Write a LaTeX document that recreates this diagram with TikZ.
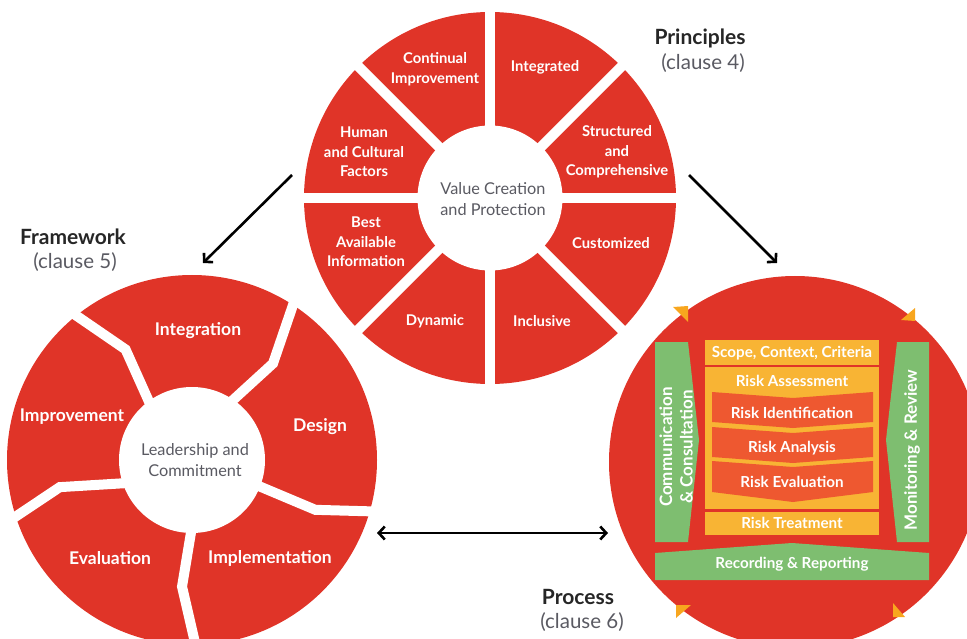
\documentclass[tikz,border=0pt]{standalone}
\usepackage{fontspec}
\setmainfont{Lato}
\usepackage{tikz}
\usetikzlibrary{arrows.meta}
\definecolor{wheelred}{RGB}{224,52,40}
\definecolor{boxorange}{RGB}{248,180,52}
\definecolor{chevred}{RGB}{238,88,48}
\definecolor{bargreen}{RGB}{126,190,112}
\definecolor{tiporange}{RGB}{248,166,30}
\definecolor{softgray}{RGB}{90,90,98}
\tikzstyle{wheel}=[fill=wheelred]
\tikzstyle{hub}=[fill=white]
\tikzstyle{gap}=[draw=white, line width=10pt]
\tikzstyle{seg}=[text=white, font=\bfseries\fontsize{14.8}{19.5}\selectfont, align=center, inner sep=0pt]
\tikzstyle{fseg}=[text=white, font=\bfseries\fontsize{17.5}{20}\selectfont, align=center, inner sep=0pt]
\tikzstyle{hubtext}=[text=softgray, font=\fontsize{16.3}{21}\selectfont, align=center, inner sep=0pt]
\tikzstyle{title}=[text=black!85, font=\bfseries\fontsize{21}{24}\selectfont, inner sep=0pt]
\tikzstyle{clause}=[text=softgray, font=\fontsize{20.5}{22}\selectfont, inner sep=0pt]
\tikzstyle{pbox}=[fill=boxorange]
\tikzstyle{chev}=[fill=chevred]
\tikzstyle{bar}=[fill=bargreen]
\tikzstyle{tri}=[fill=tiporange]
\tikzstyle{ptext}=[text=white, font=\bfseries\fontsize{15.2}{20}\selectfont, align=center, inner sep=0pt]
\tikzstyle{vtext}=[text=white, font=\bfseries\fontsize{17}{20.5}\selectfont, align=center, inner sep=0pt, rotate=90]
\tikzstyle{link}=[line width=2.6pt, -{Straight Barb[length=6pt,width=13pt]}]
\tikzstyle{twolink}=[line width=2.6pt, {Straight Barb[length=6pt,width=13pt]}-{Straight Barb[length=6pt,width=13pt]}]

\begin{document}
\begin{tikzpicture}[x=1pt, y=-1pt]
	\useasboundingbox (0,0) rectangle (967,639);
	\clip (0,0) rectangle (967,639);

	% principles
	\begin{scope}[shift={(490,198)}, y=1pt]
		\fill[wheel] (0,0) circle (186pt);
		\foreach \a in {0,45,90,135}
			\draw[gap] (\a:195) -- (\a+180:195);
		\fill[hub] (0,0) circle (72.5pt);
	\end{scope}
	\draw (435,69) node[seg] (pCont) {Continual\\Improvement};
	\draw (545,67) node[seg] (pInt) {Integrated};
	\draw (364,152) node[seg] (pHum) {Human\\and Cultural\\Factors};
	\draw (617,152) node[seg] (pStr) {Structured\\and\\Comprehensive};
	\draw (366,242) node[seg] (pBest) {Best\\Available\\Information};
	\draw (611,243) node[seg] (pCust) {Customized};
	\draw (435,321) node[seg] (pDyn) {Dynamic};
	\draw (542,321) node[seg] (pIncl) {Inclusive};
	\draw (493,199) node[hubtext] (pHub) {Value Creation\\and Protection};
	\draw (700,38) node[title] (pTitle) {Principles};
	\draw (703,63) node[clause] (pClause) {(clause 4)};

	% framework
	\begin{scope}[shift={(192,460)}, y=1pt]
		\fill[wheel] (0,0) circle (185pt);
		\draw[gap] (129:60) -- (121:129) -- (130:200);
		\draw[gap] (58.5:60) -- (50:126) -- (58:200);
		\draw[gap] (-21:60) -- (-22:133) -- (-15:200);
		\draw[gap] (-89:60) -- (-94.5:127) -- (-88:200);
		\draw[gap] (202:60) -- (191.6:135) -- (199:200);
		\fill[hub] (0,0) circle (73pt);
	\end{scope}
	\draw (198,331) node[fseg] (fInt) {Integration};
	\draw (72,417) node[fseg] (fImp) {Improvement};
	\draw (320,427) node[fseg] (fDes) {Design};
	\draw (110,558) node[fseg] (fEval) {Evaluation};
	\draw (270,558) node[fseg] (fImpl) {Implementation};
	\draw (195,460) node[hubtext] (fHub) {Leadership and\\Commitment};
	\draw (73,237) node[title] (fTitle) {Framework};
	\draw (75,262) node[clause] (fClause) {(clause 5)};

	% process
	\fill[wheel] (795,462) circle (186pt);
	\fill[tri] (673,307) -- (688,306) -- (688,322) -- cycle;
	\fill[tri] (901,320) -- (915,308) -- (915,321) -- cycle;
	\fill[tri] (676,605) -- (691,605) -- (676,618) -- cycle;
	\fill[tri] (893,603) -- (905,617) -- (893,617) -- cycle;
	\fill[bar] (655,342) -- (688,342) -- (699,440) -- (688,542) -- (655,542) -- cycle;
	\fill[bar] (897,342) -- (929,342) -- (929,542) -- (897,542) -- (886,440) -- cycle;
	\fill[bar] (655,553) -- (792,543) -- (929,553) -- (929,580) -- (655,580) -- cycle;
	\fill[pbox] (705,340) rectangle (879,365);
	\fill[pbox] (705,367) rectangle (879,509);
	\fill[pbox] (705,512) rectangle (879,535);
	\fill[chev] (712,392) -- (793,398) -- (873,392) -- (873,422) -- (793,428) -- (712,422) -- cycle;
	\fill[chev] (712,427) -- (793,433) -- (873,427) -- (873,457) -- (793,463) -- (712,457) -- cycle;
	\fill[chev] (712,461) -- (793,467) -- (873,461) -- (873,492) -- (793,502) -- (712,492) -- cycle;
	\draw (792,353) node[ptext] (scope) {Scope, Context, Criteria};
	\draw (792,381) node[ptext] (assess) {Risk Assessment};
	\draw (792,413) node[ptext] (ident) {Risk Identification};
	\draw (792,448) node[ptext] (analysis) {Risk Analysis};
	\draw (792,482) node[ptext] (evalu) {Risk Evaluation};
	\draw (792,523) node[ptext] (treat) {Risk Treatment};
	\draw (792,564) node[ptext] (record) {Recording \& Reporting};
	\draw (676,447) node[vtext] (comm) {Communication\\\& Consultation};
	\draw (912,450) node[vtext] (monitor) {Monitoring \& Review};
	\draw (578,597) node[title] (prTitle) {Process};
	\draw (582,622) node[clause] (prClause) {(clause 6)};

	% connectors
	\coordinate (pLeft) at (292,175);
	\coordinate (fTop) at (203,263);
	\coordinate (pRight) at (689,175);
	\coordinate (prTop) at (777,263);
	\coordinate (fRight) at (377,533);
	\coordinate (prLeft) at (608,533);
	\draw[link] (pLeft) -- (fTop);
	\draw[link] (pRight) -- (prTop);
	\draw[twolink] (fRight) -- (prLeft);
\end{tikzpicture}
\end{document}
